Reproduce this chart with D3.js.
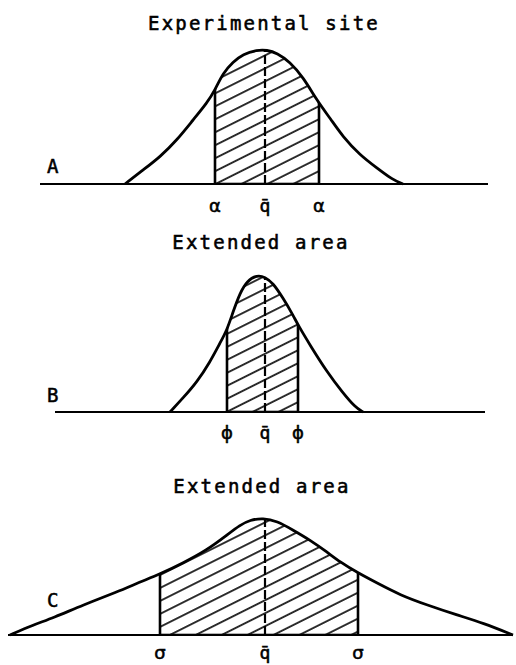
<!DOCTYPE html>
<html>
<head>
<meta charset="utf-8">
<script src="https://cdn.jsdelivr.net/npm/d3@7"></script>
<style>
  body { margin: 0; background: #fff; }
  svg { display: block; }
  text { fill: #000; stroke: #000; stroke-width: 0.55px; }
</style>
</head>
<body>
<div id="chart"></div>
<script>
// Curve points: [deviation from mean, relative height]
const curveA = [
  [-5.6, 0], [-4.88, 1.4], [-4.2, 2.7], [-3.52, 4.4], [-2.88, 6.4], [-2.32, 8.1],
  [-2.0, 9.4], [-1.68, 11.1], [-1.28, 12.2], [-0.88, 13.0], [-0.32, 13.4], [0.08, 13.4],
  [0.48, 13.1], [1.0, 12.2], [1.52, 10.7], [2.12, 8.2], [2.6, 6.6], [3.12, 4.7],
  [3.8, 2.9], [4.48, 1.6], [5.12, 0.4], [5.52, 0]
];
const curveB = [
  [-3.8, 0], [-3.28, 1.4], [-2.72, 3.0], [-2.2, 5.0], [-1.8, 6.9], [-1.52, 8.2],
  [-1.28, 10.0], [-1.0, 11.9], [-0.72, 13.1], [-0.32, 13.7], [0, 13.5], [0.32, 12.9],
  [0.72, 11.4], [1.12, 9.7], [1.32, 8.7], [1.8, 6.7], [2.48, 4.0], [3.12, 1.9],
  [3.6, 0.5], [3.92, 0]
];
const curveC = [
  [-10.2, 0], [-9.28, 1.0], [-8.48, 1.7], [-7.28, 3.0], [-5.92, 4.3], [-5.0, 5.3],
  [-4.2, 6.1], [-3.28, 7.2], [-2.32, 8.5], [-1.52, 10.0], [-1.0, 11.0], [-0.6, 11.5],
  [-0.08, 11.7], [0.48, 11.4], [1.12, 10.5], [1.8, 9.5], [2.48, 8.3], [3.0, 7.3],
  [3.72, 6.2], [4.48, 5.2], [5.4, 4.0], [6.48, 3.0], [7.68, 2.0], [8.72, 1.2], [9.92, 0]
];

// Shaded interval limits and axis extents (same units)
const shadeA = [-2.0, 2.16];
const shadeB = [-1.52, 1.32];
const shadeC = [-4.2, 3.72];
const axisA = [-9.0, 8.92];
const axisB = [-8.4, 8.8];
const axisC = [-10.28, 9.92];

const titles = ["Experimental site", "Extended area", "Extended area"];
const panelNames = ["A", "B", "C"];
const limitSymbols = ["\u03b1", "\u03d5", "\u03c3"];
const meanLabel = "q\u0304";

const width = 516;
const height = 665;

const svg = d3
  .select("#chart")
  .append("svg")
  .attr("width", width)
  .attr("height", height)
  .attr("viewBox", [0, 0, width, height]);

const defs = svg.append("defs");

// diagonal hatching
const hatch = defs
  .append("pattern")
  .attr("id", "hatch")
  .attr("patternUnits", "userSpaceOnUse")
  .attr("width", 10)
  .attr("height", 11.6)
  .attr("patternTransform", "rotate(-26.6)");
hatch
  .append("line")
  .attr("x1", -1)
  .attr("x2", 11)
  .attr("y1", 5.8)
  .attr("y2", 5.8)
  .attr("stroke", "#000")
  .attr("stroke-width", 1.6);

// shared horizontal scale, centred on the mean
const x = d3.scaleLinear().domain([-10, 10]).range([15, 515]);

const panels = [
  { curve: curveA, shade: shadeA, axis: axisA, base: 184, titleY: 30, titleX: 264, letterY: 173, labelY: 212 },
  { curve: curveB, shade: shadeB, axis: axisB, base: 412, titleY: 249, titleX: 261, letterY: 402, labelY: 439 },
  { curve: curveC, shade: shadeC, axis: axisC, base: 635, titleY: 493, titleX: 262, letterY: 607, labelY: 659 },
];

const font = "'DejaVu Sans Mono', monospace";

panels.forEach((p, i) => {
  const y = d3.scaleLinear().domain([0, 14]).range([p.base, p.base - 140]);
  const g = svg.append("g");

  const line = d3
    .line()
    .x((d) => x(d[0]))
    .y((d) => y(d[1]))
    .curve(d3.curveBasis);

  const area = d3
    .area()
    .x((d) => x(d[0]))
    .y0(y(0))
    .y1((d) => y(d[1]))
    .curve(d3.curveBasis);

  defs
    .append("clipPath")
    .attr("id", "under-" + i)
    .append("path")
    .attr("d", area(p.curve));

  // hatched interval, its edges and the dashed mean line, all clipped under the curve
  const inside = g.append("g").attr("clip-path", `url(#under-${i})`);
  inside
    .append("rect")
    .attr("x", x(p.shade[0]))
    .attr("width", x(p.shade[1]) - x(p.shade[0]))
    .attr("y", y(15))
    .attr("height", y(0) - y(15))
    .attr("fill", "url(#hatch)")
    .attr("stroke", "#000")
    .attr("stroke-width", 2.6);

  inside
    .append("line")
    .attr("x1", x(0))
    .attr("x2", x(0))
    .attr("y1", y(0))
    .attr("y2", y(15))
    .attr("stroke", "#000")
    .attr("stroke-width", 2.2)
    .attr("stroke-dasharray", "9,3");

  // baseline
  g.append("line")
    .attr("x1", x(p.axis[0]))
    .attr("x2", x(p.axis[1]))
    .attr("y1", y(0))
    .attr("y2", y(0))
    .attr("stroke", "#000")
    .attr("stroke-width", 2.2);

  // distribution curve
  g.append("path")
    .attr("d", line(p.curve))
    .attr("fill", "none")
    .attr("stroke", "#000")
    .attr("stroke-width", 2.8)
    .attr("stroke-linejoin", "round");

  // title
  g.append("text")
    .attr("x", p.titleX)
    .attr("y", p.titleY)
    .attr("text-anchor", "middle")
    .style("font-family", font)
    .style("font-size", "19px")
    .style("letter-spacing", "2.2px")
    .text(titles[i]);

  // panel letter
  g.append("text")
    .attr("x", 47)
    .attr("y", p.letterY)
    .style("font-family", font)
    .style("font-size", "19px")
    .text(panelNames[i]);

  // limit symbols and mean label under the axis
  const labels = [
    { v: p.shade[0], t: limitSymbols[i] },
    { v: 0, t: meanLabel },
    { v: p.shade[1], t: limitSymbols[i] },
  ];
  g.selectAll("text.lim")
    .data(labels)
    .enter()
    .append("text")
    .attr("class", "lim")
    .attr("x", (d) => x(d.v))
    .attr("y", p.labelY)
    .attr("text-anchor", "middle")
    .style("font-family", (d) => (d.t === meanLabel ? font : "'DejaVu Sans', sans-serif"))
    .style("font-size", "18px")
    .text((d) => d.t);
});
</script>
</body>
</html>
